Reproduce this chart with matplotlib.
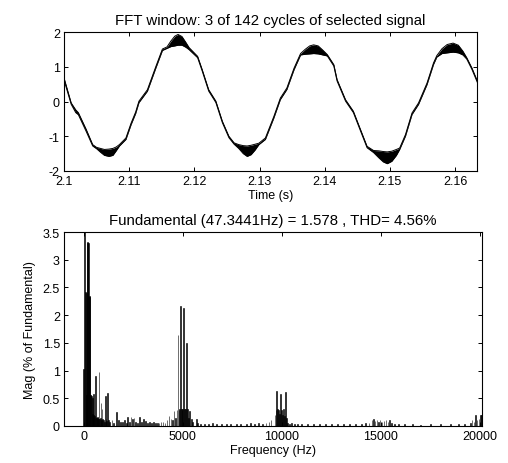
import numpy as np
import matplotlib
matplotlib.use("Agg")
import matplotlib.pyplot as plt

plt.rcParams['font.family'] = ['Liberation Sans', 'DejaVu Sans']
plt.rcParams['font.size'] = 9

# ---- time signal (upper / lower edge of the trace)
sig_t = [2.1000, 2.1011, 2.1018, 2.1022, 2.1034, 2.1044, 2.1050, 2.1056, 2.1062,
         2.1069, 2.1075, 2.1080, 2.1085, 2.1095, 2.1103, 2.1110, 2.1115, 2.1128,
         2.1141, 2.1151, 2.1158, 2.1164, 2.1170, 2.1175, 2.1181, 2.1187, 2.1192,
         2.1205, 2.1212, 2.1222, 2.1233, 2.1243, 2.1253, 2.1261, 2.1268, 2.1275,
         2.1281, 2.1287, 2.1293, 2.1299, 2.1309, 2.1322, 2.1332, 2.1342, 2.1353,
         2.1363, 2.1370, 2.1377, 2.1383, 2.1390, 2.1397, 2.1404, 2.1414, 2.1419,
         2.1432, 2.1444, 2.1455, 2.1465, 2.1475, 2.1483, 2.1490, 2.1496, 2.1503,
         2.1510, 2.1515, 2.1524, 2.1534, 2.1544, 2.1557, 2.1567, 2.1572, 2.1580,
         2.1588, 2.1597, 2.1605, 2.1612, 2.1618, 2.1626, 2.1634]
sig_hi = [0.68, -0.04, -0.24, -0.32, -0.80, -1.24, -1.32, -1.35, -1.38,
          -1.37, -1.35, -1.31, -1.24, -1.05, -0.62, -0.30, 0.01, 0.34,
          1.01, 1.51, 1.57, 1.74, 1.88, 1.93, 1.87, 1.70, 1.55,
          1.30, 0.92, 0.34, 0.01, -0.57, -1.00, -1.19, -1.24, -1.27,
          -1.28, -1.26, -1.23, -1.20, -1.05, -0.43, 0.10, 0.39, 0.96,
          1.38, 1.50, 1.60, 1.63, 1.60, 1.48, 1.35, 1.06, 0.63,
          0.05, -0.28, -0.81, -1.29, -1.41, -1.42, -1.44, -1.45, -1.43,
          -1.38, -1.34, -0.95, -0.33, -0.04, 0.53, 1.11, 1.32, 1.52,
          1.64, 1.68, 1.62, 1.45, 1.26, 0.96, 0.60]
sig_lo = [0.62, -0.08, -0.32, -0.38, -0.86, -1.28, -1.36, -1.46, -1.55,
          -1.58, -1.55, -1.42, -1.28, -1.09, -0.66, -0.34, -0.03, 0.30,
          0.97, 1.47, 1.53, 1.58, 1.60, 1.62, 1.62, 1.56, 1.49,
          1.26, 0.88, 0.30, -0.03, -0.61, -1.04, -1.23, -1.35, -1.50,
          -1.58, -1.53, -1.40, -1.24, -1.09, -0.47, 0.06, 0.35, 0.92,
          1.34, 1.36, 1.37, 1.38, 1.37, 1.34, 1.31, 1.02, 0.59,
          0.01, -0.32, -0.85, -1.33, -1.47, -1.62, -1.74, -1.79, -1.72,
          -1.55, -1.38, -0.99, -0.37, -0.08, 0.49, 1.07, 1.28, 1.38,
          1.40, 1.42, 1.40, 1.34, 1.22, 0.92, 0.56]

# ---- spectrum, % of fundamental (fundamental itself runs off the top)
spec_f = [0, 47, 95, 125, 150, 175, 205, 235, 270, 300, 330, 360, 390, 420, 445,
          470, 500, 530, 560, 590, 620, 650, 680, 710, 740, 770, 800, 840, 870,
          900, 920, 960, 1000, 1040, 1080, 1120, 1160, 1200, 1240, 1300, 1420,
          1500, 1670, 1750, 1850, 1950, 2050, 2150, 2220, 2300, 2380, 2450, 2530,
          2600, 2700, 2800, 2900, 3000, 3100, 3200, 3300, 3400, 3500, 3600, 3700,
          3800, 3900, 4000, 4100, 4200, 4300, 4400, 4480, 4550, 4620, 4700, 4750,
          4800, 4850, 4880, 4920, 4960, 5000, 5050, 5100, 5150, 5180, 5230, 5280,
          5330, 5420, 5500, 5670, 5750, 5900, 6100, 6300, 6500, 6700, 6950, 7200,
          7400, 7700, 7900, 8200, 8400, 8600, 8800, 9000, 9200, 9350, 9450, 9650,
          9700, 9730, 9780, 9830, 9880, 9930, 9980, 10030, 10080, 10130, 10180,
          10230, 10300, 10400, 10500, 10650, 10800, 11000, 11300, 11600, 11900,
          12200, 12500, 12800, 13100, 13400, 13700, 14000, 14200, 14400, 14550,
          14620, 14700, 14800, 14880, 14950, 15050, 15150, 15250, 15350, 15450,
          15550, 15700, 15900, 16200, 16600, 17000, 17500, 18000, 18500, 18900,
          19200, 19500, 19600, 19700, 19780, 19850, 19950, 20020, 20080]
spec_mag = [1.02, 100.0, 2.42, 2.40, 0.56, 3.30, 3.32, 3.30, 2.35, 2.33, 0.56, 0.56,
            0.55, 0.50, 0.22, 0.58, 0.20, 0.18, 0.15, 0.90, 0.17, 0.15, 0.14, 0.16,
            0.12, 0.97, 0.12, 0.14, 0.42, 0.10, 0.30, 0.12, 0.10, 0.08, 0.54, 0.12,
            0.09, 0.60, 0.10, 0.08, 0.10, 0.06, 0.26, 0.10, 0.08, 0.07, 0.10, 0.06,
            0.16, 0.08, 0.17, 0.12, 0.14, 0.08, 0.06, 0.16, 0.07, 0.12, 0.09, 0.06,
            0.08, 0.05, 0.07, 0.05, 0.06, 0.05, 0.07, 0.08, 0.06, 0.10, 0.18, 0.12,
            0.10, 0.27, 0.14, 0.28, 1.64, 0.28, 0.30, 2.16, 0.30, 0.28, 0.30, 2.12,
            0.30, 0.30, 1.50, 0.30, 0.15, 0.27, 0.12, 0.08, 0.12, 0.05, 0.03, 0.04,
            0.03, 0.05, 0.03, 0.04, 0.03, 0.04, 0.03, 0.03, 0.04, 0.05, 0.04, 0.06,
            0.04, 0.06, 0.07, 0.10, 0.19, 0.28, 0.64, 0.30, 0.28, 0.22, 0.57, 0.28,
            0.20, 0.30, 0.18, 0.61, 0.15, 0.06, 0.04, 0.05, 0.04, 0.03, 0.03, 0.04,
            0.03, 0.03, 0.04, 0.03, 0.03, 0.04, 0.03, 0.04, 0.03, 0.05, 0.06, 0.10,
            0.12, 0.09, 0.11, 0.07, 0.10, 0.08, 0.09, 0.11, 0.07, 0.10, 0.06, 0.04,
            0.03, 0.03, 0.03, 0.02, 0.03, 0.03, 0.03, 0.04, 0.04, 0.06, 0.10, 0.08,
            0.20, 0.10, 0.12, 0.20, 0.20]

time_ticks = [2.1, 2.11, 2.12, 2.13, 2.14, 2.15, 2.16]
freq_ticks = [0, 5000, 10000, 15000, 20000]
mag_ticks = [0, 0.5, 1, 1.5, 2, 2.5, 3, 3.5]

fig = plt.figure(figsize=(5.08, 4.64), dpi=100)
W, H = 508.0, 464.0
ax1 = fig.add_axes([64 / W, 1 - 172 / H, (477 - 64) / W, (172 - 33) / H])
ax2 = fig.add_axes([64 / W, 1 - 427 / H, (482 - 64) / W, (427 - 233) / H])

# top: signal trace
ax1.fill_between(sig_t, sig_lo, sig_hi, color='black', linewidth=0)
ax1.plot(sig_t, sig_hi, color='black', lw=0.7)
ax1.plot(sig_t, sig_lo, color='black', lw=0.7)
ax1.set_xlim(2.1, 2.16337)
ax1.set_ylim(-2, 2)
ax1.set_xticks(time_ticks)
ax1.set_xticklabels(['%g' % v for v in time_ticks])
ax1.set_yticks([-2, -1, 0, 1, 2])
ax1.set_yticklabels(['-2', '-1', '0', '1', '2'])
ax1.set_xlabel('Time (s)', labelpad=1)
ax1.set_title('FFT window: 3 of 142 cycles of selected signal', pad=6)

# bottom: spectrum bars
ax2.bar(spec_f, spec_mag, width=40, color='black', edgecolor='black',
        linewidth=0.4)
ax2.set_xlim(-1000, 20100)
ax2.set_ylim(0, 3.5)
ax2.set_xticks(freq_ticks)
ax2.set_xticklabels([str(v) for v in freq_ticks])
ax2.set_yticks(mag_ticks)
ax2.set_yticklabels(['%g' % v for v in mag_ticks])
ax2.set_xlabel('Frequency (Hz)', labelpad=1)
ax2.set_ylabel('Mag (% of Fundamental)', labelpad=5)
ax2.set_title('Fundamental (47.3441Hz) = 1.578 , THD= 4.56%', pad=6)

for ax in (ax1, ax2):
    ax.tick_params(direction='in', length=3, width=0.7, top=True, right=True,
                   pad=3, labelsize=9)
    for s in ax.spines.values():
        s.set_linewidth(0.8)

fig.savefig('out.png', dpi=100)
